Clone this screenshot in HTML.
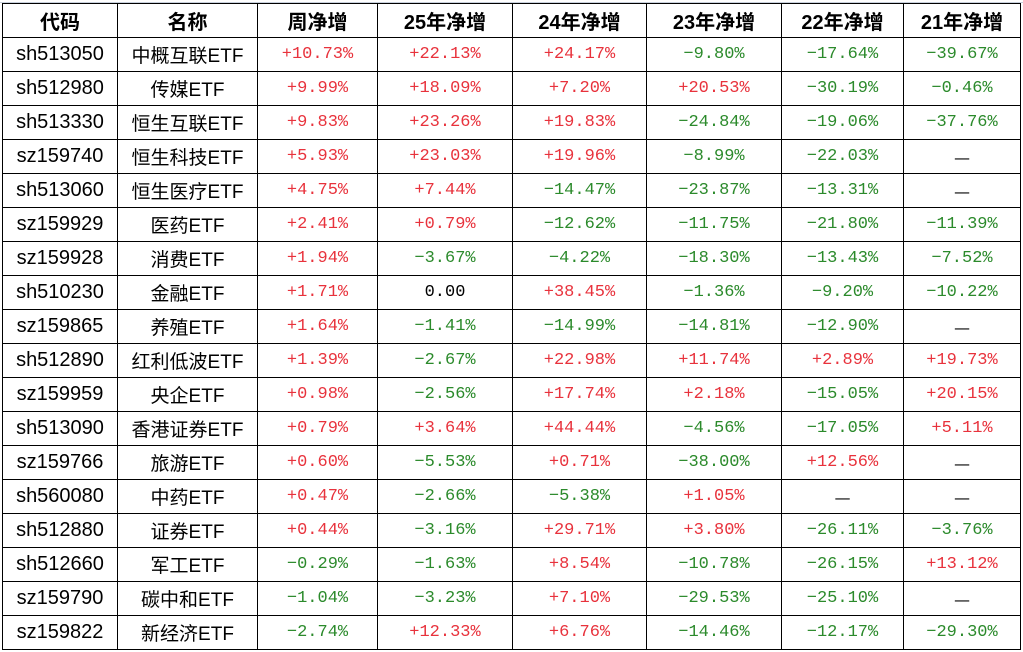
<!DOCTYPE html>
<html><head><meta charset="utf-8"><style>
body{margin:0;background:#fff;width:1023px;height:652px;overflow:hidden;position:relative}
#top{position:absolute;left:0;top:2px;width:1023px;height:1px;background:#c8d0dc}
table{position:absolute;left:2px;top:3px;border-collapse:collapse;table-layout:fixed}
td,th{border:1px solid #000;height:33px;padding:0;text-align:center;white-space:nowrap}
th{font-family:"Liberation Sans","Noto Sans CJK SC",sans-serif;font-weight:bold;font-size:20px;color:#000}
td.c{font-family:"Liberation Sans","Noto Sans CJK SC",sans-serif;font-size:20px;color:#000}
td.n{font-family:"Liberation Sans","Noto Sans CJK SC",sans-serif;font-size:19px;color:#000}
td.v{font-family:"Liberation Mono","Noto Sans CJK SC",monospace;font-size:17px}
td.v.k.dash{font-family:"Noto Sans CJK SC",sans-serif;font-size:18px}
.r{color:#e8323c}.g{color:#2b8a2b}.k{color:#000}
</style></head><body>
<div id="top"></div>
<table id="t">
<colgroup><col style="width:115px"><col style="width:140px"><col style="width:120px"><col style="width:135px"><col style="width:134px"><col style="width:135px"><col style="width:122px"><col style="width:117px"></colgroup>
<thead><tr>
<th>代码</th>
<th>名称</th>
<th>周净增</th>
<th>25年净增</th>
<th>24年净增</th>
<th>23年净增</th>
<th>22年净增</th>
<th>21年净增</th>
</tr></thead><tbody id="b"></tbody></table>
<script>
const codes=["sh513050","sh512980","sh513330","sz159740","sh513060","sz159929","sz159928","sh510230","sz159865","sh512890","sz159959","sh513090","sz159766","sh560080","sh512880","sh512660","sz159790","sz159822"];
const names=["中概互联ETF","传媒ETF","恒生互联ETF","恒生科技ETF","恒生医疗ETF","医药ETF","消费ETF","金融ETF","养殖ETF","红利低波ETF","央企ETF","香港证券ETF","旅游ETF","中药ETF","证券ETF","军工ETF","碳中和ETF","新经济ETF"];
const week=["+10.73%","+9.99%","+9.83%","+5.93%","+4.75%","+2.41%","+1.94%","+1.71%","+1.64%","+1.39%","+0.98%","+0.79%","+0.60%","+0.47%","+0.44%","-0.29%","-1.04%","-2.74%"];
const y25=["+22.13%","+18.09%","+23.26%","+23.03%","+7.44%","+0.79%","-3.67%","0.00","-1.41%","-2.67%","-2.56%","+3.64%","-5.53%","-2.66%","-3.16%","-1.63%","-3.23%","+12.33%"];
const y24=["+24.17%","+7.20%","+19.83%","+19.96%","-14.47%","-12.62%","-4.22%","+38.45%","-14.99%","+22.98%","+17.74%","+44.44%","+0.71%","-5.38%","+29.71%","+8.54%","+7.10%","+6.76%"];
const y23=["-9.80%","+20.53%","-24.84%","-8.99%","-23.87%","-11.75%","-18.30%","-1.36%","-14.81%","+11.74%","+2.18%","-4.56%","-38.00%","+1.05%","+3.80%","-10.78%","-29.53%","-14.46%"];
const y22=["-17.64%","-30.19%","-19.06%","-22.03%","-13.31%","-21.80%","-13.43%","-9.20%","-12.90%","+2.89%","-15.05%","-17.05%","+12.56%","—","-26.11%","-26.15%","-25.10%","-12.17%"];
const y21=["-39.67%","-0.46%","-37.76%","—","—","-11.39%","-7.52%","-10.22%","—","+19.73%","+20.15%","+5.11%","—","—","-3.76%","+13.12%","—","-29.30%"];
const cols=[["week",week],["25",y25],["24",y24],["23",y23],["22",y22],["21",y21]];
const b=document.getElementById('b');
codes.forEach((c,i)=>{
 const tr=document.createElement('tr');
 
 
 const a=document.createElement('td');a.className='c';a.textContent=c;
 
 
 tr.appendChild(a);
 const n=document.createElement('td');n.className='n';n.textContent=names[i];
 
 
 tr.appendChild(n);
 cols.forEach(([k,arr])=>{
  const v=arr[i];const d=document.createElement('td');
  d.className='v '+(v[0]=='+'?'r':v[0]=='-'?'g':'k')+(v=='—'?' dash':'');
  d.textContent=v.replace('-','−');
  
  
  tr.appendChild(d);
 });
 b.appendChild(tr);
});
</script>
</body></html>
